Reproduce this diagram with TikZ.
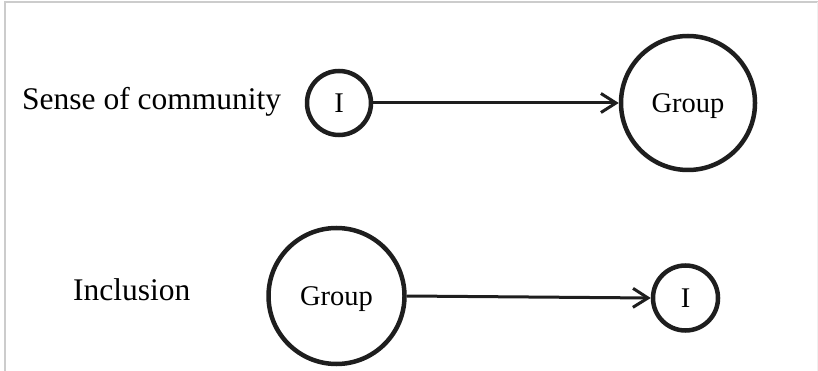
\documentclass[tikz,border=0pt]{standalone}
\usepackage{fontspec}
\setmainfont{Liberation Serif}
\usetikzlibrary{arrows.meta}
\definecolor{ink}{HTML}{1E1E1E}
\begin{document}
\begin{tikzpicture}[x=1pt,y=-1pt,
  circ/.style={draw=ink, circle, line width=4.5pt, inner sep=0pt,
    font=\fontsize{28.5}{31}\selectfont, text height=19pt, text depth=0pt},
  lbl/.style={anchor=base west, inner sep=0pt, font=\fontsize{31.5}{34}\selectfont},
  link/.style={draw=ink, line width=3pt,
    -{Straight Barb[length=15pt,width=19pt,line width=3pt]}},
  frame/.style={draw=black!20, line width=2pt}]
\useasboundingbox (0,0) rectangle (818,371);
% frame
\draw[frame] (5,371) -- (5,2.5) -- (818,2.5);
\draw[draw=black!6, line width=1pt] (817.5,2.5) -- (817.5,371);
% labels
\node[lbl] (sense) at (22,110) {Sense of community};
\node[lbl] (incl) at (73,300) {Inclusion};
% top row
\node[circ, minimum size=64pt] (itop) at (339,103) {I};
\node[circ, minimum size=134pt] (gtop) at (688,103) {Group};
\draw[link] (itop.east) -- (gtop.west);
% bottom row
\node[circ, minimum size=136pt] (gbot) at (336.5,296) {Group};
\node[circ, minimum size=65pt] (ibot) at (685.5,298) {I};
\draw[link] (gbot.east) -- (ibot.west);
\end{tikzpicture}
\end{document}
